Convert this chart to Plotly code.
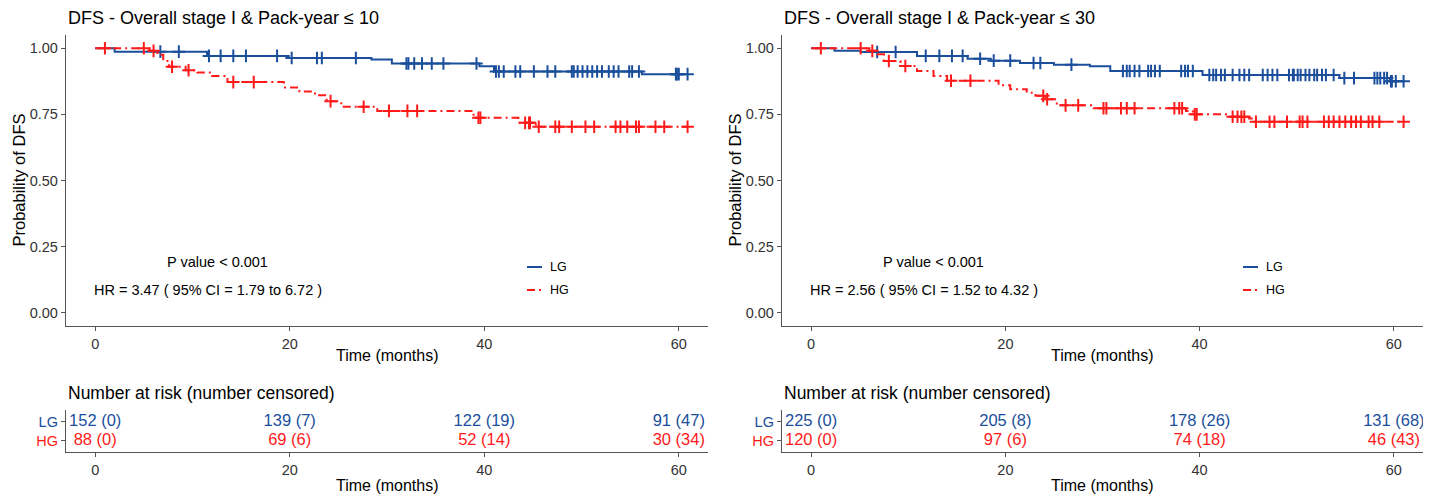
import numpy as np
import plotly.graph_objects as go

W, H = 1432, 496

# ---------------- data ----------------
# Left panel: Pack-year <= 10
L_LG_evt_t = [2.0, 11.5, 19.9, 28.4, 30.5, 39.5, 41.0, 56.2]
L_LG_evt_s = [0.987, 0.971, 0.963, 0.957, 0.942, 0.932, 0.912, 0.902]
L_LG_cens = [6.7, 8.6, 11.7, 12.9, 14.2, 15.5, 18.7, 20.2, 22.8, 23.3, 26.8, 32.0, 32.2,
             32.8, 33.6, 34.6, 35.8, 39.2, 41.2, 41.5, 42.0, 43.2, 43.7, 45.1, 46.5, 47.3,
             49.0, 49.2, 49.6, 50.1, 50.6, 51.1, 51.6, 52.1, 52.8, 53.3, 53.8, 54.9, 55.2,
             55.9, 59.7, 59.8, 60.0, 60.9]

L_HG_evt_t = [5.6, 6.4, 7.0, 7.6, 9.3, 10.5, 12.0, 13.6, 19.4, 21.0, 22.6, 23.8, 25.3,
              29.0, 38.9, 43.5, 45.3]
L_HG_evt_s = [0.990, 0.975, 0.952, 0.930, 0.917, 0.908, 0.895, 0.872, 0.852, 0.836, 0.822,
              0.800, 0.779, 0.763, 0.737, 0.718, 0.703]
L_HG_cens = [1.0, 5.0, 6.0, 7.9, 9.6, 14.2, 16.3, 24.2, 27.6, 30.2, 32.1, 33.1, 39.4, 39.6,
             44.2, 44.6, 44.7, 45.6, 47.3, 47.7, 49.0, 50.4, 51.3, 53.5, 54.0, 54.7, 55.6,
             55.9, 57.6, 58.5, 60.9]

# Right panel: Pack-year <= 30
R_LG_evt_t = [2.4, 5.1, 10.9, 16.1, 18.5, 21.5, 25.0, 28.7, 30.8, 40.3, 54.4, 59.6]
R_LG_evt_s = [0.990, 0.986, 0.971, 0.960, 0.953, 0.944, 0.938, 0.932, 0.914, 0.899, 0.887, 0.875]
R_LG_cens = [6.8, 8.7, 11.8, 13.2, 14.5, 15.6, 17.4, 18.8, 20.5, 22.9, 23.6, 26.8, 32.1, 32.5,
             32.8, 33.3, 33.8, 34.7, 35.0, 35.4, 35.9, 38.1, 38.5, 38.8, 39.3, 41.0, 41.4,
             41.7, 42.2, 42.6, 43.4, 44.1, 44.6, 45.1, 46.5, 47.0, 47.5, 48.0, 49.2, 49.6,
             49.7, 50.1, 50.4, 50.9, 51.3, 51.8, 52.1, 52.6, 53.0, 53.8, 54.9, 55.9, 58.0,
             58.3, 58.6, 59.0, 59.3, 59.7, 59.8, 60.2, 61.0]

R_HG_evt_t = [6.0, 6.8, 7.5, 9.2, 10.9, 12.6, 14.0, 19.3, 20.5, 22.2, 23.1, 24.1, 25.3,
              29.1, 38.6, 39.3, 43.1, 45.1, 45.6]
R_HG_evt_s = [0.990, 0.977, 0.952, 0.933, 0.914, 0.895, 0.877, 0.860, 0.845, 0.832, 0.820,
              0.807, 0.784, 0.773, 0.763, 0.750, 0.741, 0.734, 0.722]
R_HG_cens = [1.0, 5.1, 6.3, 8.0, 9.7, 14.4, 16.4, 23.9, 24.3, 26.2, 27.5, 30.1, 30.4, 31.9,
             32.5, 33.3, 37.4, 37.9, 38.2, 39.5, 39.7, 43.4, 43.9, 44.3, 44.6, 45.8, 47.2,
             47.7, 49.0, 50.3, 50.6, 51.1, 52.8, 53.3, 53.8, 54.4, 55.0, 55.6, 56.1, 56.6,
             57.4, 57.8, 58.5, 61.0]

# Risk tables
risk_times = [0, 20, 40, 60]
L_LG_risk = ["152 (0)", "139 (7)", "122 (19)", "91 (47)"]
L_HG_risk = ["88 (0)", "69 (6)", "52 (14)", "30 (34)"]
R_LG_risk = ["225 (0)", "205 (8)", "178 (26)", "131 (68)"]
R_HG_risk = ["120 (0)", "97 (6)", "74 (18)", "46 (43)"]

titles = ["DFS - Overall stage I & Pack-year ≤ 10", "DFS - Overall stage I & Pack-year ≤ 30"]
pvals = ["P value < 0.001", "P value < 0.001"]
hrs = ["HR = 3.47 ( 95% CI = 1.79 to 6.72 )", "HR = 2.56 ( 95% CI = 1.52 to 4.32 )"]
groups = ["LG", "HG"]

# ---------------- styles ----------------
BLUE = "#1B4F9C"
RED = "#FF1A1A"
AXC = "#555555"
TXT = "#333333"
FONT = "Liberation Sans, Arial, sans-serif"
REDDASH = "8px,4px,2px,4px"


def px_x(p):
    return p / W


def px_y(p):
    return 1 - p / H


main_dom_y = [px_y(326), px_y(35)]
tab_dom_y = [px_y(452), px_y(410)]
dom_x = [[px_x(66), px_x(708)], [px_x(782), px_x(1423)]]

fig = go.Figure()


def km_trace(evt_t, evt_s, cens, color, dash, xa, ya):
    t = np.array(evt_t)
    s = np.array(evt_s)
    c = np.array(cens)
    end = max(c.max(), t.max())
    xs = np.concatenate([[0.0], t, [end]])
    ys = np.concatenate([[1.0], s, [s[-1]]])
    fig.add_trace(go.Scatter(x=xs, y=ys, mode="lines", line=dict(shape="hv", color=color,
                             width=2, dash=dash), xaxis=xa, yaxis=ya, showlegend=False,
                             hoverinfo="skip"))
    idx = np.searchsorted(t, c, side="right")
    cy = np.where(idx == 0, 1.0, s[np.maximum(idx - 1, 0)])
    fig.add_trace(go.Scatter(x=c, y=cy, mode="markers",
                             marker=dict(symbol="cross-thin", size=9, color=color,
                                         line=dict(color=color, width=2)),
                             xaxis=xa, yaxis=ya, showlegend=False, hoverinfo="skip"))


panels = [
    (L_LG_evt_t, L_LG_evt_s, L_LG_cens, L_HG_evt_t, L_HG_evt_s, L_HG_cens, L_LG_risk, L_HG_risk),
    (R_LG_evt_t, R_LG_evt_s, R_LG_cens, R_HG_evt_t, R_HG_evt_s, R_HG_cens, R_LG_risk, R_HG_risk),
]

annotations = []
shapes = []
for i, (lt, ls, lc, ht, hs, hc, lr, hr) in enumerate(panels):
    xa_m = "x" if i == 0 else "x2"
    ya_m = "y" if i == 0 else "y2"
    xa_t = "x3" if i == 0 else "x4"
    ya_t = "y3" if i == 0 else "y4"
    km_trace(lt, ls, lc, BLUE, "solid", xa_m, ya_m)
    km_trace(ht, hs, hc, RED, REDDASH, xa_m, ya_m)

    fig.add_trace(go.Scatter(x=risk_times, y=[2] * 4, mode="text", text=lr,
                             textfont=dict(color=BLUE, size=16.5, family=FONT),
                             xaxis=xa_t, yaxis=ya_t, showlegend=False, hoverinfo="skip"))
    fig.add_trace(go.Scatter(x=risk_times, y=[1] * 4, mode="text", text=hr,
                             textfont=dict(color=RED, size=16.5, family=FONT),
                             xaxis=xa_t, yaxis=ya_t, showlegend=False, hoverinfo="skip"))

    x0 = dom_x[i][0]
    xc = (dom_x[i][0] + dom_x[i][1]) / 2
    # titles
    annotations.append(dict(text=titles[i], x=x0, y=px_y(18), xref="paper", yref="paper",
                            xanchor="left", yanchor="middle", showarrow=False,
                            font=dict(size=18, color="black", family=FONT)))
    annotations.append(dict(text="Number at risk (number censored)", x=x0, y=px_y(393),
                            xref="paper", yref="paper", xanchor="left", yanchor="middle",
                            showarrow=False, font=dict(size=17.5, color="black", family=FONT)))
    # axis titles
    annotations.append(dict(text="Time (months)", x=xc, y=px_y(355), xref="paper", yref="paper",
                            xanchor="center", yanchor="middle", showarrow=False,
                            font=dict(size=16, color="black", family=FONT)))
    annotations.append(dict(text="Time (months)", x=xc, y=px_y(485), xref="paper", yref="paper",
                            xanchor="center", yanchor="middle", showarrow=False,
                            font=dict(size=16, color="black", family=FONT)))
    annotations.append(dict(text="Probability of DFS", x=x0 - px_x(48), y=(main_dom_y[0] + main_dom_y[1]) / 2,
                            xref="paper", yref="paper", xanchor="center", yanchor="middle",
                            textangle=-90, showarrow=False,
                            font=dict(size=16.5, color="black", family=FONT)))
    # stats text
    annotations.append(dict(text=pvals[i], x=12.6, y=0.193, xref=xa_m, yref=ya_m,
                            xanchor="center", yanchor="middle", showarrow=False,
                            font=dict(size=14.5, color="black", family=FONT)))
    annotations.append(dict(text=hrs[i], x=11.6, y=0.087, xref=xa_m, yref=ya_m,
                            xanchor="center", yanchor="middle", showarrow=False,
                            font=dict(size=14.5, color="black", family=FONT)))
    # legend (manual key)
    lx0 = [527, 1243][i]
    for gname, col, dsh, yy in [(groups[0], BLUE, "solid", 267), (groups[1], RED, REDDASH, 290)]:
        shapes.append(dict(type="line", xref="paper", yref="paper", x0=px_x(lx0), x1=px_x(lx0 + 15),
                           y0=px_y(yy), y1=px_y(yy), line=dict(color=col, width=2, dash=dsh)))
        annotations.append(dict(text=gname, x=px_x(lx0 + 21), y=px_y(yy), xref="paper", yref="paper",
                                xanchor="left", yanchor="middle", showarrow=False,
                                font=dict(size=12.5, color="black", family=FONT)))

axis_common = dict(showline=True, linecolor=AXC, linewidth=1.3, ticks="outside", ticklen=4,
                   tickcolor=AXC, tickwidth=1, showgrid=False, zeroline=False, automargin=False,
                   tickfont=dict(size=14.5, color=TXT, family=FONT))

layout = dict(width=W, height=H, margin=dict(l=0, r=0, t=0, b=0), paper_bgcolor="white",
              plot_bgcolor="white", showlegend=False, annotations=annotations, shapes=shapes,
              font=dict(family=FONT))
for i in range(2):
    xm = "xaxis" if i == 0 else "xaxis2"
    ym = "yaxis" if i == 0 else "yaxis2"
    xt = "xaxis3" if i == 0 else "xaxis4"
    yt = "yaxis3" if i == 0 else "yaxis4"
    anchor_xm = "y" if i == 0 else "y2"
    anchor_ym = "x" if i == 0 else "x2"
    anchor_xt = "y3" if i == 0 else "y4"
    anchor_yt = "x3" if i == 0 else "x4"
    layout[xm] = dict(axis_common, domain=dom_x[i], range=[-3, 63], tickvals=risk_times, anchor=anchor_xm)
    layout[ym] = dict(axis_common, domain=main_dom_y, range=[-0.05, 1.05],
                      tickvals=[0, 0.25, 0.5, 0.75, 1.0], tickformat=".2f", anchor=anchor_ym)
    layout[xt] = dict(axis_common, domain=dom_x[i], range=[-3, 63], tickvals=risk_times, anchor=anchor_xt)
    layout[yt] = dict(axis_common, domain=tab_dom_y, range=[0.4, 2.6], tickvals=[1, 2],
                      ticktext=[f'<span style="color:{RED}">{groups[1]}</span>',
                                f'<span style="color:{BLUE}">{groups[0]}</span>'],
                      anchor=anchor_yt)
    layout[yt]["tickfont"] = dict(size=14.5, color=TXT, family=FONT)

fig.update_layout(**layout)
fig.write_html("out.html", config={"displayModeBar": False},
               post_script="document.body.style.margin='0';document.body.style.padding='0';"
                           "document.documentElement.style.overflow='hidden';")
